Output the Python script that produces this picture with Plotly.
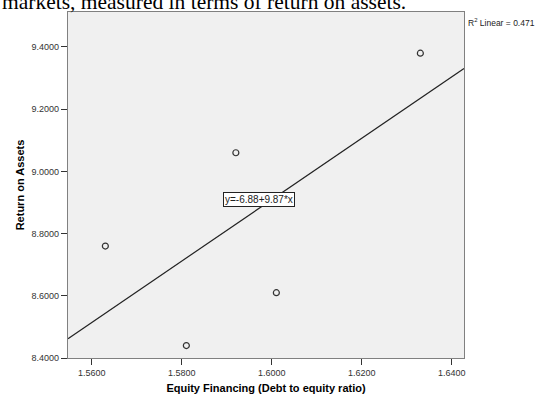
import numpy as np
import plotly.graph_objects as go

equity_financing = [1.5630, 1.5810, 1.5920, 1.6010, 1.6330]
return_on_assets = [8.76, 8.44, 9.06, 8.61, 9.38]
x_ticks = [1.56, 1.58, 1.60, 1.62, 1.64]
y_ticks = [8.4, 8.6, 8.8, 9.0, 9.2, 9.4]

x_range = [1.5547, 1.6427]
y_range = [8.4, 9.5125]

slope, intercept = np.polyfit(equity_financing, return_on_assets, 1)
pred = np.polyval([slope, intercept], equity_financing)
ss_res = np.sum((np.array(return_on_assets) - pred) ** 2)
ss_tot = np.sum((np.array(return_on_assets) - np.mean(return_on_assets)) ** 2)
r2 = 1 - ss_res / ss_tot

line_x = np.array(x_range)
line_y = intercept + slope * line_x

L, R, T, B = 68, 464, 12, 358
W, H = 539, 394

fig = go.Figure()
fig.add_trace(go.Scatter(x=line_x, y=line_y, mode="lines",
                         line=dict(color="#222222", width=1.2),
                         hoverinfo="skip", showlegend=False))
fig.add_trace(go.Scatter(x=equity_financing, y=return_on_assets, mode="markers",
                         marker=dict(symbol="circle-open", size=6,
                                     color="#333333", line=dict(width=1.2)),
                         showlegend=False))

fig.add_annotation(x=1.5971, y=8.911, xref="x", yref="y",
                   text=f"y={intercept:.2f}+{slope:.2f}*x", showarrow=False,
                   font=dict(family="Liberation Sans, Arial", size=10, color="#222222"),
                   bgcolor="white", bordercolor="#222222", borderwidth=1, borderpad=1)
fig.add_annotation(x=(537 - L) / (R - L), y=1.0, xref="paper", yref="paper",
                   xanchor="right", yanchor="top", yshift=-3,
                   text=f"R<sup>2</sup> Linear = {r2:.3f}", showarrow=False,
                   font=dict(family="Liberation Sans, Arial", size=8.5, color="#222222"))
fig.add_annotation(x=(204 - L) / (R - L), y=1.029, xref="paper", yref="paper",
                   xanchor="center", yanchor="middle",
                   text="markets, measured in terms of return on assets.", showarrow=False,
                   font=dict(family="Liberation Serif, Times New Roman", size=21.5, color="black"))

axis_font = dict(family="Liberation Sans, Arial", size=9, color="#333333")
title_font = dict(family="Liberation Sans, Arial", size=11, color="black")

fig.update_layout(
    width=W, height=H,
    margin=dict(l=L, r=W - R, t=T, b=H - B, autoexpand=False),
    paper_bgcolor="white", plot_bgcolor="#F0F0F0",
    xaxis=dict(range=x_range, tickvals=x_ticks, tickformat=".4f", automargin=False,
               showgrid=False, zeroline=False, showline=True, mirror=True,
               linecolor="#808080", linewidth=1.2, ticks="outside", ticklen=6,
               tickcolor="#333333", tickfont=axis_font,
               title=dict(text="<b>Equity Financing (Debt to equity ratio)</b>",
                          font=title_font, standoff=9)),
    yaxis=dict(range=y_range, tickvals=y_ticks, tickformat=".4f", automargin=False,
               showgrid=False, zeroline=False, showline=True, mirror=True,
               linecolor="#808080", linewidth=1.2, ticks="outside", ticklen=6,
               tickcolor="#333333", tickfont=axis_font,
               title=dict(text="<b>Return on Assets</b>", font=title_font, standoff=4)),
)

fig.write_html("out.html", config={"displayModeBar": False},
               post_script="document.body.style.margin='0';")
